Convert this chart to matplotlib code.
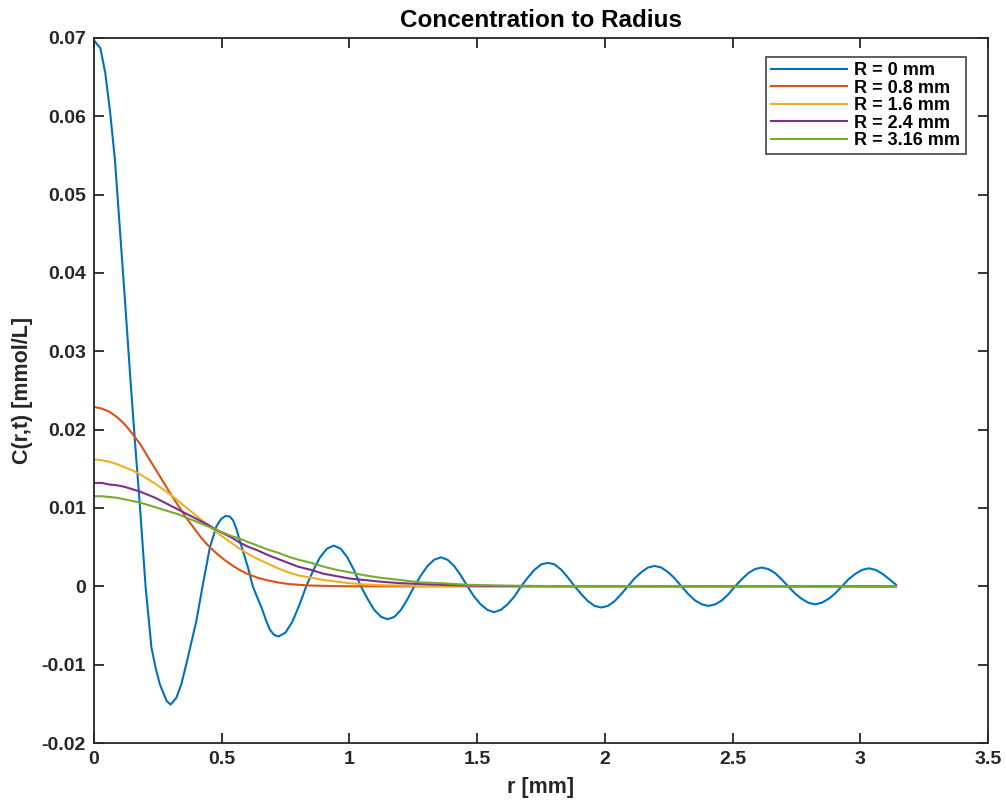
import matplotlib
matplotlib.use('Agg')
import matplotlib.pyplot as plt

# --- Datos ---
# R = 0 mm : pares (r, C)
blue_pts = [
    (0.0, 0.0697), (0.025, 0.0687), (0.044, 0.0656), (0.063, 0.0606), (0.082, 0.0545),
    (0.099, 0.0468), (0.121, 0.0367), (0.143, 0.0263), (0.160, 0.0187), (0.180, 0.0102),
    (0.202, 0.0), (0.225, -0.0078), (0.242, -0.0105), (0.258, -0.0125), (0.284, -0.0146),
    (0.300, -0.0151), (0.323, -0.0142), (0.342, -0.0125), (0.361, -0.0100), (0.381, -0.0072),
    (0.401, -0.0044), (0.425, 0.0), (0.454, 0.0050), (0.480, 0.0077), (0.498, 0.0086),
    (0.516, 0.0090), (0.532, 0.0089), (0.545, 0.0084), (0.558, 0.0073), (0.571, 0.0058),
    (0.587, 0.0041), (0.603, 0.0024), (0.622, 0.0), (0.639, -0.0014), (0.656, -0.0027),
    (0.672, -0.0042), (0.688, -0.0055), (0.705, -0.0062), (0.723, -0.0064),
    (0.750, -0.0059), (0.777, -0.0045), (0.804, -0.0024), (0.831, 0.0),
    (0.858, 0.0020), (0.885, 0.0037), (0.912, 0.0048), (0.939, 0.0052),
    (0.966, 0.0048), (0.992, 0.0037), (1.019, 0.0020), (1.045, 0.0),
    (1.071, -0.0016), (1.097, -0.0030), (1.124, -0.0039), (1.150, -0.0042),
    (1.176, -0.0039), (1.202, -0.0030), (1.228, -0.0016), (1.254, 0.0),
    (1.280, 0.0014), (1.306, 0.0026), (1.332, 0.0034), (1.358, 0.0037),
    (1.384, 0.0034), (1.410, 0.0026), (1.436, 0.0014), (1.462, 0.0),
    (1.488, -0.0013), (1.514, -0.0023), (1.540, -0.0030), (1.566, -0.0033),
    (1.593, -0.0030), (1.619, -0.0023), (1.646, -0.0013), (1.672, 0.0),
    (1.698, 0.0011), (1.724, 0.0021), (1.751, 0.0028), (1.777, 0.0030),
    (1.803, 0.0028), (1.830, 0.0021), (1.856, 0.0011), (1.882, 0.0),
    (1.908, -0.0010), (1.934, -0.0019), (1.960, -0.0025), (1.986, -0.0027),
    (2.012, -0.0025), (2.038, -0.0019), (2.064, -0.0010), (2.090, 0.0),
    (2.116, 0.0010), (2.143, 0.0018), (2.169, 0.0024), (2.195, 0.0026),
    (2.221, 0.0024), (2.248, 0.0018), (2.274, 0.0010), (2.300, 0.0),
    (2.327, -0.0010), (2.353, -0.0018), (2.380, -0.0023), (2.406, -0.0025),
    (2.432, -0.0023), (2.458, -0.0018), (2.484, -0.0010), (2.510, 0.0),
    (2.536, 0.0009), (2.562, 0.0017), (2.588, 0.0022), (2.614, 0.0024),
    (2.640, 0.0022), (2.666, 0.0017), (2.692, 0.0009), (2.718, 0.0),
    (2.744, -0.0009), (2.771, -0.0016), (2.797, -0.0021), (2.823, -0.0023),
    (2.849, -0.0021), (2.876, -0.0016), (2.902, -0.0009), (2.928, 0.0),
    (2.954, 0.0009), (2.981, 0.0016), (3.007, 0.0021), (3.034, 0.0023),
    (3.060, 0.0021), (3.087, 0.0016), (3.114, 0.0009), (3.140, 0.0002),
]
r_blue = [p[0] for p in blue_pts]
c_blue = [p[1] for p in blue_pts]

r_gauss = [0.0, 0.03, 0.06, 0.09, 0.12, 0.15, 0.18, 0.21, 0.24, 0.27,
           0.30, 0.33, 0.36, 0.39, 0.42, 0.45, 0.48, 0.51, 0.54, 0.57,
           0.60, 0.64, 0.68, 0.72, 0.76, 0.80, 0.85, 0.90, 0.95, 1.00,
           1.06, 1.12, 1.20, 1.28, 1.36, 1.46, 1.6, 1.8, 3.14]
c_r08 = [0.0229, 0.0227, 0.0223, 0.0216, 0.0207, 0.0195, 0.0182, 0.0166, 0.0150, 0.0134,
         0.0118, 0.0103, 0.0088, 0.0075, 0.0062, 0.0051, 0.0042, 0.0034, 0.0027, 0.0021,
         0.0016, 0.0011, 0.00076, 0.0005, 0.0003, 0.0002, 0.0001, 0.00006, 0.00003, 0.0,
         0.0, 0.0, 0.0, 0.0, 0.0, 0.0, 0.0, 0.0, 0.0]
c_r16 = [0.0162, 0.0161, 0.0159, 0.0156, 0.0152, 0.0148, 0.0143, 0.0137, 0.0131, 0.0124,
         0.0117, 0.0109, 0.0101, 0.0093, 0.0085, 0.0077, 0.0069, 0.0062, 0.0055, 0.0048,
         0.0042, 0.0035, 0.0029, 0.0023, 0.0018, 0.0014, 0.0011, 0.0008, 0.0006, 0.0004,
         0.00025, 0.00015, 0.0001, 0.00005, 0.00003, 0.00001, 0.0, 0.0, 0.0]
c_r24 = [0.0132, 0.0132, 0.0130, 0.0129, 0.0127, 0.0124, 0.0121, 0.0117, 0.0113, 0.0108,
         0.0103, 0.0098, 0.0093, 0.0088, 0.0083, 0.0078, 0.0072, 0.0067, 0.0062, 0.0056,
         0.0051, 0.0046, 0.0040, 0.0035, 0.0030, 0.0025, 0.0021, 0.0016, 0.0013, 0.0010,
         0.0008, 0.0006, 0.0004, 0.0003, 0.0002, 0.0001, 0.00004, 0.00001, 0.0]
c_r316 = [0.0115, 0.0115, 0.0114, 0.0113, 0.0111, 0.0109, 0.0107, 0.0104, 0.0101, 0.0098,
          0.0095, 0.0092, 0.0088, 0.0084, 0.0080, 0.0076, 0.0072, 0.0068, 0.0064, 0.0061,
          0.0057, 0.0052, 0.0047, 0.0043, 0.0038, 0.0034, 0.0030, 0.0025, 0.0021, 0.0018,
          0.0014, 0.0011, 0.0008, 0.0005, 0.0004, 0.0002, 0.0001, 0.00003, 0.0]

labels = ['R = 0 mm', 'R = 0.8 mm', 'R = 1.6 mm', 'R = 2.4 mm', 'R = 3.16 mm']
colors = ['#0072BD', '#D95319', '#EDB120', '#7E2F8E', '#77AC30']

x_ticks = [0, 0.5, 1, 1.5, 2, 2.5, 3, 3.5]
x_ticklabels = ['0', '0.5', '1', '1.5', '2', '2.5', '3', '3.5']
y_ticks = [-0.02, -0.01, 0, 0.01, 0.02, 0.03, 0.04, 0.05, 0.06, 0.07]
y_ticklabels = ['-0.02', '-0.01', '0', '0.01', '0.02', '0.03', '0.04', '0.05', '0.06', '0.07']

# --- Grafico ---
plt.rcParams['font.family'] = ['Liberation Sans', 'DejaVu Sans']
plt.rcParams['font.weight'] = 'bold'

fig = plt.figure(figsize=(10.06, 8.01), dpi=100)
ax = fig.add_axes([0.0934, 0.0724, 0.8887, 0.8802])

series = [(r_blue, c_blue), (r_gauss, c_r08), (r_gauss, c_r16), (r_gauss, c_r24), (r_gauss, c_r316)]
for (xs, ys), lab, col in zip(series, labels, colors):
    ax.plot(xs, ys, color=col, linewidth=1.5, label=lab)

ax.set_xlim(0, 3.5)
ax.set_ylim(-0.02, 0.07)
ax.set_xticks(x_ticks)
ax.set_xticklabels(x_ticklabels)
ax.set_yticks(y_ticks)
ax.set_yticklabels(y_ticklabels)

axis_color = '#262626'
for s in ax.spines.values():
    s.set_color(axis_color)
    s.set_linewidth(1.3)
ax.tick_params(direction='in', length=7, width=1.3, colors=axis_color,
               top=True, right=True, labelsize=14, pad=6)
for lbl in ax.get_xticklabels() + ax.get_yticklabels():
    lbl.set_fontweight('bold')

ax.set_title('Concentration to Radius', fontsize=17.5, fontweight='bold', pad=8)
ax.set_xlabel('r [mm]', fontsize=15.5, fontweight='bold', color=axis_color, labelpad=6)
ax.set_ylabel('C(r,t) [mmol/L]', fontsize=15.5, fontweight='bold', color=axis_color, labelpad=6)

leg = ax.legend(loc='upper right', bbox_to_anchor=(0.975, 0.973), fontsize=13,
                frameon=True, fancybox=False, edgecolor=axis_color,
                handlelength=4.2, handletextpad=0.4, labelspacing=0.02,
                borderpad=0.3, borderaxespad=0)
leg.get_frame().set_linewidth(1.3)
for t in leg.get_texts():
    t.set_fontweight('bold')

fig.savefig('out.png', dpi=100)
